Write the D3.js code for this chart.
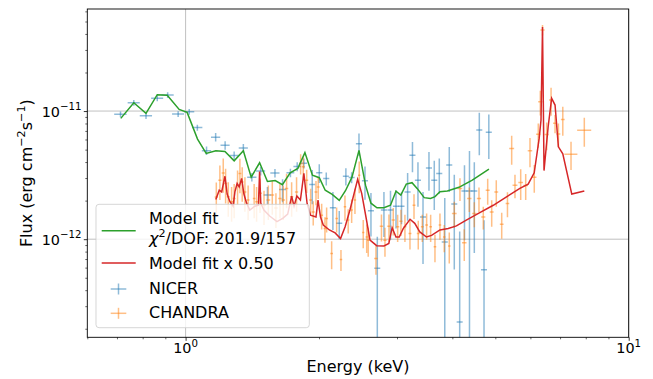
<!DOCTYPE html>
<html><head><meta charset="utf-8">
<script src="https://cdn.jsdelivr.net/npm/d3@7"></script>
<style>body{margin:0;background:#fff;} svg{display:block;font-family:"DejaVu Sans",sans-serif;}</style>
</head><body><svg id="c" width="653" height="379"></svg>
<script>
// ---- data (energy in keV, flux in units of 1e-12 erg cm^-2 s^-1) ----
const nicerEnergy = [0.713,0.764,0.814,0.863,0.911,0.962,1.019,1.063,1.115,1.169,1.228,1.287,1.350,1.411,1.477,1.530,1.591,1.655,1.724,1.786,1.849,1.931,2.003,2.077,2.150,2.222,2.300,2.370,2.462,2.540,2.620,2.708,2.803,2.900,2.984,3.071,3.170,3.251,3.345,3.434,3.542,3.641,3.737,3.845,3.936,4.040,4.155,4.260,4.372,4.483,4.601,4.715,4.834];
const nicerFlux = [9.43,11.61,9.19,12.57,13.34,9.48,9.87,7.43,4.91,6.26,5.40,4.49,5.14,3.05,3.40,2.21,3.28,2.44,3.30,3.69,3.92,2.67,3.30,2.97,1.76,1.33,3.10,3.03,5.57,2.86,1.67,0.593,1.69,1.69,1.81,1.81,2.34,4.53,2.89,1.49,3.59,2.89,3.26,0.95,3.79,1.88,0.226,2.38,2.38,2.38,7.11,0.578,6.82];
const nicerFluxErr = [0.5,0.6,0.5,0.65,0.7,0.5,0.5,0.4,0.37,0.47,0.4,0.34,0.39,0.23,0.26,0.35,0.25,0.5,0.25,0.3,0.35,0.8,0.55,0.35,0.58,0.33,0.48,0.3,1.1,0.83,0.62,0.45,0.65,0.7,0.6,0.5,0.95,1.2,1.1,0.85,1.2,1.2,1.0,1.15,1.45,1.3,0.92,1.4,2.5,1.6,2.6,0.83,2.6];
const nicerEnergyErr = [0.023,0.024,0.026,0.027,0.029,0.030,0.027,0.028,0.027,0.028,0.029,0.031,0.032,0.034,0.035,0.030,0.038,0.030,0.035,0.035,0.030,0.030,0.032,0.033,0.034,0.035,0.036,0.037,0.039,0.040,0.041,0.042,0.044,0.045,0.047,0.048,0.050,0.051,0.053,0.054,0.056,0.057,0.059,0.060,0.062,0.063,0.065,0.067,0.069,0.070,0.072,0.074,0.076];

const chandraEnergy = [1.173,1.195,1.216,1.231,1.248,1.270,1.287,1.310,1.326,1.342,1.361,1.384,1.428,1.446,1.472,1.503,1.537,1.569,1.599,1.633,1.661,1.690,1.735,1.780,1.818,1.843,1.876,1.915,1.941,1.969,1.992,2.028,2.063,2.081,2.136,2.192,2.242,2.289,2.328,2.370,2.411,2.465,2.517,2.563,2.583,2.689,2.767,2.818,2.877,2.942,3.010,3.062,3.126,3.209,3.277,3.350,3.421,3.499,3.573,3.654,3.750,3.834,3.936,4.040,4.161,4.255,4.368,4.483,4.593,4.697,4.806,4.907,5.025,5.169,5.326,5.444,5.538,5.705,5.855,5.987,6.122,6.251,6.317,6.39,6.53,6.68,6.82,6.94,7.10,7.41,7.94];
const chandraFlux = [2.13,2.89,3.28,2.72,2.14,1.96,2.08,2.64,3.26,2.80,2.34,2.02,2.08,1.96,2.28,1.84,2.02,2.21,1.75,2.08,2.02,2.49,2.14,2.34,3.90,3.67,2.89,2.02,1.63,2.34,2.56,1.54,1.21,1.45,0.773,1.45,0.694,1.79,1.41,1.69,2.02,3.16,1.13,1.04,0.98,0.707,1.26,0.98,1.26,1.41,1.25,1.38,1.25,1.11,1.84,1.11,1.25,1.29,1.25,0.871,1.29,1.04,0.886,1.59,2.49,0.936,2.08,1.59,2.08,1.49,2.41,1.63,2.34,1.31,1.90,5.11,2.64,2.77,2.62,4.90,3.05,6.58,11.83,42.9,6.55,12.19,8.02,6.61,8.61,4.61,7.07];
const chandraFluxErr = [0.64,0.87,0.98,0.82,0.64,0.59,0.62,0.79,0.98,0.84,0.70,0.61,0.62,0.59,0.68,0.55,0.61,0.66,0.53,0.62,0.61,0.75,0.64,0.70,0.7,0.7,0.6,0.45,0.35,0.5,0.5,0.35,0.27,0.32,0.19,0.32,0.13,0.4,0.3,0.35,0.45,0.88,0.28,0.26,0.25,0.18,0.3,0.25,0.3,0.34,0.3,0.32,0.3,0.28,0.4,0.28,0.3,0.3,0.3,0.21,0.3,0.25,0.24,0.37,0.5,0.26,0.45,0.35,0.45,0.3,0.55,0.38,0.55,0.3,0.42,1.3,0.55,0.75,0.6,1.25,0.75,1.4,2.6,4,1.6,3,1.3,1.4,2.2,1.15,1.8];
const chandraEnergyErr = [0.01,0.01,0.01,0.01,0.01,0.01,0.01,0.01,0.01,0.01,0.01,0.01,0.01,0.01,0.015,0.015,0.015,0.015,0.015,0.015,0.015,0.015,0.015,0.015,0.015,0.015,0.015,0.015,0.015,0.015,0.015,0.015,0.015,0.015,0.015,0.015,0.015,0.015,0.015,0.015,0.015,0.015,0.015,0.015,0.015,0.025,0.025,0.025,0.025,0.025,0.025,0.025,0.025,0.025,0.025,0.025,0.025,0.025,0.025,0.025,0.025,0.025,0.025,0.05,0.05,0.05,0.05,0.05,0.05,0.05,0.05,0.05,0.05,0.05,0.05,0.07,0.07,0.07,0.07,0.07,0.07,0.07,0.07,0.07,0.07,0.07,0.07,0.07,0.07,0.25,0.29];

const modelEnergy = [0.714,0.764,0.814,0.863,0.909,0.967,1.008,1.064,1.113,1.170,1.227,1.287,1.350,1.406,1.469,1.530,1.593,1.654,1.722,1.792,1.859,1.933,2.003,2.066,2.142,2.222,2.295,2.374,2.462,2.547,2.620,2.703,2.803,2.900,2.984,3.060,3.148,3.243,3.334,3.455,3.570,3.655,3.750,3.897,4.139,4.436,4.837];
const modelFlux = [8.77,11.61,9.59,13.41,13.30,10.31,9.77,6.04,4.67,4.90,4.84,4.09,4.90,3.05,3.95,2.82,2.87,2.66,3.30,3.57,4.74,3.16,3.02,2.41,2.24,2.01,2.39,3.05,4.93,2.64,1.91,1.76,1.76,1.84,2.37,2.21,2.69,2.76,2.48,2.11,2.08,2.15,2.35,2.38,2.54,2.89,3.52];

const model2Energy = [1.170,1.191,1.206,1.227,1.241,1.259,1.280,1.292,1.307,1.321,1.338,1.354,1.373,1.396,1.433,1.460,1.469,1.478,1.502,1.550,1.608,1.659,1.700,1.735,1.757,1.783,1.816,1.849,1.880,1.914,1.969,1.990,2.016,2.045,2.111,2.175,2.237,2.291,2.349,2.445,2.497,2.553,2.607,2.699,2.803,2.875,2.925,2.984,3.035,3.098,3.210,3.290,3.377,3.497,3.590,3.750,3.915,4.085,4.300,4.613,4.947,5.300,5.680,5.930,6.120,6.280,6.340,6.390,6.440,6.580,6.700,6.820,6.940,7.100,7.440,7.940];
const model2Flux = [2.04,2.41,2.34,3.10,2.25,1.96,1.81,2.34,2.72,2.56,2.98,2.25,1.91,1.69,1.81,1.84,3.37,1.91,1.69,1.51,1.37,1.46,1.57,2.17,1.81,2.17,2.02,3.26,1.90,1.54,1.49,2.02,1.49,1.29,1.18,1.12,1.01,1.25,1.69,2.93,2.28,1.49,0.982,0.89,0.886,0.926,1.23,1.04,1.04,1.21,1.43,1.33,1.14,1.04,1.07,1.18,1.21,1.27,1.41,1.61,1.84,2.14,2.49,2.69,3.30,6.12,8.51,45.3,3.43,7.54,12.57,11.14,5.26,4.64,2.25,2.38];

const FLUX_UNIT = 1e-12;
const xMajorTicks = [1, 10];
const xMajorExp = ["0", "1"];
const yMajorTicks = [1e-12, 1e-11];
const yMajorExp = ["\u221212", "\u221211"];
const legendLabels = ["Model fit", "Model fit x 0.50", "NICER", "CHANDRA"];
const chiText = "/DOF: 201.9/157";

// ---- layout ----
const W = 653, H = 379;
const L = 87.3, R = 628.7, T = 9, B = 337.3;
const C = {green: "#2ca02c", red: "#d62728", blue: "#1f77b4", orange: "#ff7f0e"};

const x = d3.scaleLog().domain([0.6, 10]).range([L, R]);
const y = d3.scaleLog().domain([1.715e-13, 6.26e-11]).range([B, T]);

const svg = d3.select("#c");
svg.append("rect").attr("width", W).attr("height", H).attr("fill", "#fff");
svg.append("defs").append("clipPath").attr("id", "clip")
  .append("rect").attr("x", L).attr("y", T).attr("width", R - L).attr("height", B - T);

// grid
const grid = svg.append("g").attr("stroke", "#b0b0b0").attr("stroke-width", 0.8);
xMajorTicks.forEach(v => grid.append("line").attr("x1", x(v)).attr("x2", x(v)).attr("y1", T).attr("y2", B));
yMajorTicks.forEach(v => grid.append("line").attr("y1", y(v)).attr("y2", y(v)).attr("x1", L).attr("x2", R));

const plot = svg.append("g").attr("clip-path", "url(#clip)");

function errorbars(E, F, xe, ye, color) {
  const g = plot.append("g").attr("stroke", color).attr("stroke-opacity", 0.5).attr("stroke-width", 1.5);
  E.forEach((e, i) => {
    const f = F[i] * FLUX_UNIT, d = ye[i] * FLUX_UNIT;
    const lo = Math.max(f - d, 1e-16);
    g.append("line").attr("x1", x(e - xe[i])).attr("x2", x(e + xe[i])).attr("y1", y(f)).attr("y2", y(f));
    g.append("line").attr("x1", x(e)).attr("x2", x(e)).attr("y1", Math.min(y(lo), B + 5)).attr("y2", y(f + d));
  });
}
errorbars(nicerEnergy, nicerFlux, nicerEnergyErr, nicerFluxErr, C.blue);
errorbars(chandraEnergy, chandraFlux, chandraEnergyErr, chandraFluxErr, C.orange);

const line = d3.line().x(d => x(d[0])).y(d => y(d[1] * FLUX_UNIT));
plot.append("path").datum(modelEnergy.map((e, i) => [e, modelFlux[i]]))
  .attr("d", line).attr("fill", "none").attr("stroke", C.green).attr("stroke-width", 1.5);
plot.append("path").datum(model2Energy.map((e, i) => [e, model2Flux[i]]))
  .attr("d", line).attr("fill", "none").attr("stroke", C.red).attr("stroke-width", 1.5);

// axes ticks
const xMinor = [0.6,0.7,0.8,0.9,2,3,4,5,6,7,8,9];
const yMinor = [];
[1e-13, 1e-12, 1e-11].forEach(dec => { for (let k = 2; k <= 9; k++) { const v = k * dec; if (v >= 1.715e-13 && v <= 6.26e-11) yMinor.push(v); } });

svg.append("g").attr("transform", `translate(0,${B})`)
  .call(d3.axisBottom(x).tickValues(xMajorTicks).tickSize(3.5).tickFormat(""))
  .call(g => g.select(".domain").remove()).selectAll("line").attr("stroke-width", 0.8);
svg.append("g").attr("transform", `translate(0,${B})`)
  .call(d3.axisBottom(x).tickValues(xMinor).tickSize(2).tickFormat(""))
  .call(g => g.select(".domain").remove()).selectAll("line").attr("stroke-width", 0.6);
svg.append("g").attr("transform", `translate(${L},0)`)
  .call(d3.axisLeft(y).tickValues(yMajorTicks).tickSize(3.5).tickFormat(""))
  .call(g => g.select(".domain").remove()).selectAll("line").attr("stroke-width", 0.8);
svg.append("g").attr("transform", `translate(${L},0)`)
  .call(d3.axisLeft(y).tickValues(yMinor).tickSize(2).tickFormat(""))
  .call(g => g.select(".domain").remove()).selectAll("line").attr("stroke-width", 0.6);

// frame
svg.append("rect").attr("x", L).attr("y", T).attr("width", R - L).attr("height", B - T)
  .attr("fill", "none").attr("stroke", "#000").attr("stroke-width", 0.9);

// tick labels
xMajorTicks.forEach((v, i) => {
  const t = svg.append("text").attr("x", x(v)).attr("y", 353.3).attr("text-anchor", "middle")
    .attr("font-size", 14.4).attr("fill", "#000");
  t.append("tspan").text("10");
  t.append("tspan").attr("font-size", 10.2).attr("dy", -6.3).text(xMajorExp[i]);
});
yMajorTicks.forEach((v, i) => {
  const t = svg.append("text").attr("x", 81.5).attr("y", y(v) + 5.7).attr("text-anchor", "end")
    .attr("font-size", 14.4).attr("fill", "#000");
  t.append("tspan").text("10");
  t.append("tspan").attr("font-size", 10.2).attr("dy", -6.7).text(yMajorExp[i]);
});

// axis labels
svg.append("text").attr("x", (L + R) / 2).attr("y", 372).attr("text-anchor", "middle")
  .attr("font-size", 16).attr("fill", "#000").text("Energy (keV)");
const yl = svg.append("text").attr("transform", `translate(31.7,${(T + B) / 2}) rotate(-90)`)
  .attr("text-anchor", "middle").attr("font-size", 16).attr("fill", "#000");
yl.append("tspan").text("Flux (erg cm");
yl.append("tspan").attr("font-size", 11.2).attr("dy", -6.5).text("\u22122");
yl.append("tspan").attr("dy", 6.5).text("s");
yl.append("tspan").attr("font-size", 11.2).attr("dy", -6.5).text("\u22121");
yl.append("tspan").attr("dy", 6.5).text(")");

// legend
const lg = svg.append("g");
lg.append("rect").attr("x", 96).attr("y", 204.3).attr("width", 213.3).attr("height", 123.4).attr("rx", 3)
  .attr("fill", "#fff").attr("fill-opacity", 0.8).attr("stroke", "#cccccc").attr("stroke-opacity", 0.8).attr("stroke-width", 1);
lg.append("line").attr("x1", 101.7).attr("x2", 135.7).attr("y1", 230.7).attr("y2", 230.7).attr("stroke", C.green).attr("stroke-width", 1.5);
lg.append("line").attr("x1", 101.7).attr("x2", 135.7).attr("y1", 263).attr("y2", 263).attr("stroke", C.red).attr("stroke-width", 1.5);
[[289, C.blue], [313.3, C.orange]].forEach(([cy, col]) => {
  const g = lg.append("g").attr("stroke", col).attr("stroke-opacity", 0.5).attr("stroke-width", 1.5);
  g.append("line").attr("x1", 110.7).attr("x2", 126.3).attr("y1", cy).attr("y2", cy);
  g.append("line").attr("x1", 118.5).attr("x2", 118.5).attr("y1", cy - 5.5).attr("y2", cy + 5.5);
});
const lt = (yy) => lg.append("text").attr("x", 149).attr("y", yy).attr("font-size", 16).attr("fill", "#000");
lt(224.3).text(legendLabels[0]);
const chi = lt(244.3);
chi.append("tspan").attr("font-style", "italic").text("\u03c7");
chi.append("tspan").attr("font-size", 11.2).attr("dy", -7).text("2");
chi.append("tspan").attr("dy", 7).text(chiText);
lt(269.3).text(legendLabels[1]);
lt(294.3).text(legendLabels[2]);
lt(318.3).text(legendLabels[3]);
</script></body></html>
